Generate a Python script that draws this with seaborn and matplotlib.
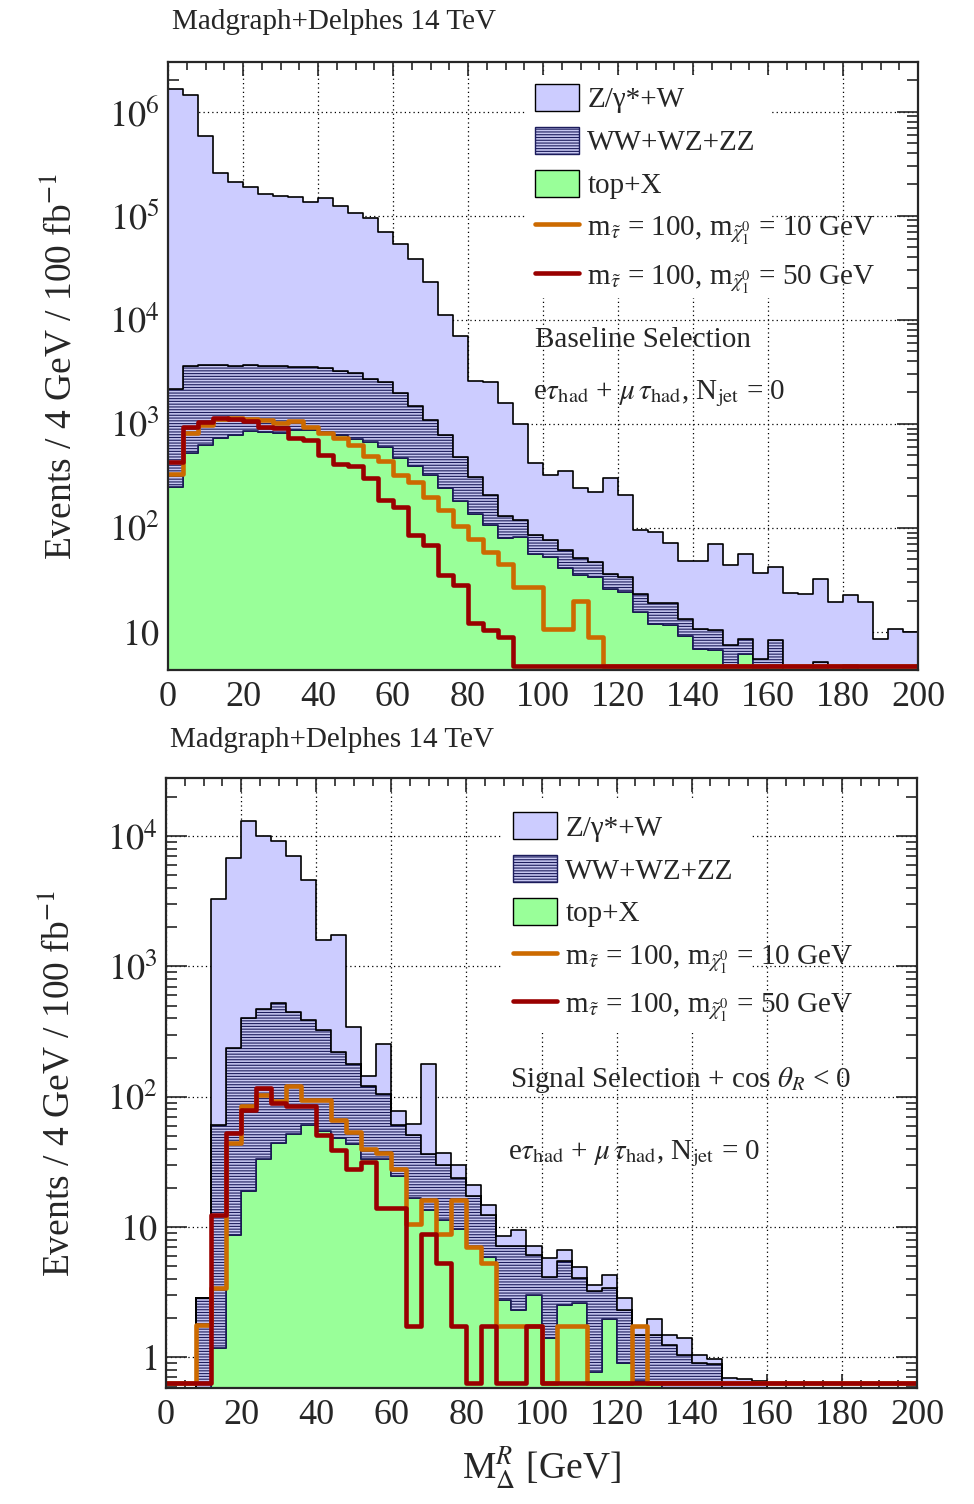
import numpy as np
import pandas as pd
import matplotlib
matplotlib.use("Agg")
import matplotlib.pyplot as plt
import seaborn as sns
from matplotlib.patches import Patch, Rectangle
from matplotlib.lines import Line2D
from matplotlib.ticker import MultipleLocator, LogLocator, FuncFormatter, NullFormatter

# ---------------- data ----------------
bin_edges = list(range(0, 204, 4))          # 50 bins of 4 GeV, 0-200 GeV
processes = ["Z/γ*+W", "WW+WZ+ZZ", "top+X"]
signal_labels = [
    r"m$_{\tilde{\tau}}$ = 100, m$_{\tilde{\chi}^{0}_{1}}$ = 10 GeV",
    r"m$_{\tilde{\tau}}$ = 100, m$_{\tilde{\chi}^{0}_{1}}$ = 50 GeV",
]

# Baseline selection (top panel)
top_z = [1.64e6, 1.43e6, 5.76e5, 2.56e5, 2.06e5, 1.84e5, 1.58e5, 1.52e5, 1.465e5, 1.315e5,
         1.435e5, 1.21e5, 1.04e5, 9.23e4, 6.75e4, 5.1e4, 3.65e4, 2.19e4, 1.04e4, 6420,
         2290, 2290, 1440, 866, 331, 244, 290, 190, 172, 267,
         172, 72, 73, 53, 35, 37, 60, 37, 47, 31.5,
         34, 23.7, 22.9, 27, 19.3, 17.7, 19.4, 8.6, 10.7, 9.9]
top_vv = [1890, 3070, 3080, 2980, 2820, 2850, 2770, 2790, 2630, 2630,
          2610, 2420, 2390, 2040, 1900, 1520, 1090, 770, 540, 300,
          172, 103, 51, 39, 29, 24, 20, 16, 13, 10,
          10, 7.4, 7.1, 7.4, 4.1, 3.7, 3.7, 2.6, 2.5, 5.5,
          3.5, 0, 0, 5.1, 0, 4.8, 0, 0, 0, 0]
top_tt = [248, 526, 624, 724, 778, 851, 827, 809, 869, 869,
          838, 778, 713, 662, 601, 471, 392, 321, 239, 182,
          137, 106, 79, 81, 56, 53, 41, 35, 34, 26,
          24, 15.6, 11.9, 11.6, 9.1, 6.9, 6.7, 4.8, 6.1, 0,
          4.8, 0, 0, 0, 0, 0, 0, 0, 0, 0]
top_sig10 = [328, 820, 973, 1110, 1135, 1110, 1087, 1015, 1052, 922,
             809, 733, 624, 489, 441, 321, 277, 196, 147, 105,
             78, 58, 45, 27, 27, 10.6, 10.6, 19.7, 9.0, 0,
             0, 0, 0, 0, 0, 0, 0, 0, 0, 0,
             0, 0, 0, 0, 0, 0, 0, 0, 0, 0]
top_sig50 = [431, 922, 1045, 1127, 1110, 1069, 936, 903, 733, 697,
             500, 410, 392, 298, 185, 159, 85, 68, 35, 28,
             12.3, 10.5, 8.9, 0, 0, 0, 0, 0, 0, 0,
             0, 0, 0, 0, 0, 0, 0, 0, 0, 0,
             0, 0, 0, 0, 0, 0, 0, 0, 0, 0]

# Signal selection + cos theta_R < 0 (bottom panel)
bot_z = [0, 0, 0, 3240, 6560, 12600, 9530, 8680, 6550, 4210,
         1276, 1528, 163, 23, 152, 17, 11, 143, 6.7, 6.2,
         3.8, 2.3, 1.4, 2.4, 1.1, 1.7, 1.1, 0.84, 0.4, 0.9,
         0.55, 0.26, 0.48, 0.23, 0.36, 0.13, 0.07, 0.69, 0.68, 0.66,
         0, 0, 0, 0, 0, 0, 0, 0, 0, 0]
bot_vv = [0, 0, 2.84, 59.3, 229, 382, 437, 478, 397, 326,
          269, 174, 134, 88, 71, 36.5, 34.3, 22.4, 18.6, 14.2,
          10.2, 6.5, 4.4, 4.8, 3.1, 2.7, 3.0, 1.46, 2.43, 1.45,
          1.4, 0.83, 0.87, 1.24, 1.04, 0.91, 0.89, 0, 0, 0,
          0, 0, 0, 0, 0, 0, 0, 0, 0, 0]
bot_tt = [0, 0, 0, 1.18, 8.6, 18.8, 33, 44, 52, 61,
          55, 48, 43, 33, 33, 24.5, 16.7, 13.6, 11.4, 9.6,
          7.0, 5.9, 2.77, 2.3, 3.0, 1.4, 2.5, 2.6, 0.77, 1.95,
          0.90, 0.66, 0.62, 0, 0, 0, 0, 0, 0, 0,
          0, 0, 0, 0, 0, 0, 0, 0, 0, 0]
bot_sig10 = [0, 0, 1.77, 3.4, 44, 85, 103, 93, 121, 94,
             94, 66, 54, 40, 37, 28, 10.6, 16, 8.8, 16,
             7.0, 5.3, 1.75, 1.75, 1.75, 0, 1.75, 1.75, 0, 0,
             0, 1.75, 0, 0, 0, 0, 0, 0, 0, 0,
             0, 0, 0, 0, 0, 0, 0, 0, 0, 0]
bot_sig50 = [0, 0, 0, 12.3, 53, 79, 116, 90, 85, 85,
             51, 39, 28, 31.7, 14, 14, 1.75, 8.8, 5.3, 1.75,
             0, 1.75, 0, 0, 1.75, 0, 0, 0, 0, 0,
             0, 0, 0, 0, 0, 0, 0, 0, 0, 0,
             0, 0, 0, 0, 0, 0, 0, 0, 0, 0]

# ---------------- style ----------------
sns.set_style("ticks")
plt.rcParams["font.family"] = ["Liberation Serif", "DejaVu Serif"]
plt.rcParams["mathtext.fontset"] = "stix"
plt.rcParams["hatch.linewidth"] = 0.8

C_Z = "#ccccff"
C_VV = "#c6c6f0"
C_VV_EDGE = "#1c1c5c"
C_TT = "#99ff99"
C_S10 = "#cc6a00"
C_S50 = "#990000"
VV_HATCH = "------"
palette = {processes[0]: C_Z, processes[1]: C_VV, processes[2]: C_TT}

TICK_FS = 26
TEXT_FS = 21


def decade_fmt(v, pos):
    e = int(round(np.log10(v)))
    if e == 0:
        return "$1$"
    if e == 1:
        return "$10$"
    return rf"$10^{{{e}}}$"


def draw_panel(ax, z, vv, tt, s10, s50, ymin, ymax):
    centers = np.asarray(bin_edges[:-1], float) + 2.0
    df = pd.DataFrame({
        "mass": np.tile(centers, 3),
        "events": np.concatenate([z, vv, tt]),
        "process": np.repeat(processes, len(centers)),
    })
    ax.set_yscale("log")
    sns.histplot(data=df, x="mass", weights="events", hue="process",
                 hue_order=processes, bins=bin_edges, multiple="stack",
                 element="step", fill=True, palette=palette, alpha=1,
                 edgecolor="black", linewidth=1.2, legend=False, ax=ax)
    for coll in ax.collections:
        fc = matplotlib.colors.to_hex(coll.get_facecolor()[0])
        if fc == C_VV:
            coll.set_edgecolor(C_VV_EDGE)
            coll.set_hatch(VV_HATCH)
    floor = ymin * 1.10
    for vals, col in [(s10, C_S10), (s50, C_S50)]:
        sns.histplot(x=centers, weights=np.clip(np.asarray(vals, float), floor, None),
                     bins=bin_edges, element="step", fill=False, color=col,
                     linewidth=3.3, ax=ax)
    ax.set_xlim(0, 200)
    ax.set_ylim(ymin, ymax)
    ax.set_xlabel("")
    ax.xaxis.set_major_locator(MultipleLocator(20))
    ax.xaxis.set_minor_locator(MultipleLocator(5))
    ax.yaxis.set_major_locator(LogLocator(base=10, numticks=20))
    ax.yaxis.set_minor_locator(LogLocator(base=10, subs=np.arange(2, 10), numticks=20))
    ax.yaxis.set_major_formatter(FuncFormatter(decade_fmt))
    ax.yaxis.set_minor_formatter(NullFormatter())
    ax.tick_params(axis="both", which="both", direction="in", top=True, right=True,
                   labelsize=TICK_FS, width=1.2)
    ax.tick_params(axis="x", which="major", length=10, pad=8)
    ax.tick_params(axis="x", which="minor", length=6)
    ax.tick_params(axis="y", which="major", length=15, pad=6)
    ax.tick_params(axis="y", which="minor", length=8)
    ax.set_axisbelow(True)
    ax.grid(True, which="major", linestyle=(0, (1, 2.5)), color="black", linewidth=0.9)
    for sp in ax.spines.values():
        sp.set_linewidth(1.6)
        sp.set_zorder(5)
    ax.set_ylabel("Events / 4 GeV / 100 fb$^{-1}$", fontsize=27)


def add_legend(ax, anchor, box):
    ax.add_patch(Rectangle((box[0], box[1]), box[2], box[3], transform=ax.transAxes,
                           facecolor="white", edgecolor="none", zorder=0.8))
    handles = [
        Patch(facecolor=C_Z, edgecolor="black", linewidth=1.0),
        Patch(facecolor=C_VV, edgecolor=C_VV_EDGE, hatch=VV_HATCH, linewidth=1.0),
        Patch(facecolor=C_TT, edgecolor="black", linewidth=1.0),
        Line2D([], [], color=C_S10, linewidth=3.3),
        Line2D([], [], color=C_S50, linewidth=3.3),
    ]
    labels = processes + signal_labels
    ax.legend(handles, labels, loc="upper left", bbox_to_anchor=anchor,
              frameon=False, fontsize=TEXT_FS, handlelength=1.5, handleheight=1.05,
              handletextpad=0.3, labelspacing=0.46, borderpad=0, borderaxespad=0)


fig = plt.figure(figsize=(9.74, 15.04), dpi=100)
ax1 = fig.add_axes([168 / 974, 1 - 670 / 1504, 750 / 974, 608 / 1504])
ax2 = fig.add_axes([166 / 974, 1 - 1388 / 1504, 751 / 974, 610 / 1504])

draw_panel(ax1, top_z, top_vv, top_tt, top_sig10, top_sig50, 4.3, 3.0e6)
draw_panel(ax2, bot_z, bot_vv, bot_tt, bot_sig10, bot_sig50, 0.58, 2.8e4)

ax1.yaxis.set_label_coords(-0.118, 0.5)
ax2.yaxis.set_label_coords(-0.118, 0.5)

add_legend(ax1, (0.489, 0.964), (0.476, 0.612, 0.329, 0.367))
add_legend(ax2, (0.462, 0.944), (0.449, 0.582, 0.330, 0.385))

ax1.text(0.489, 0.543, "Baseline Selection", transform=ax1.transAxes,
         fontsize=TEXT_FS, va="center", ha="left")
ax1.text(0.487, 0.445, r"e$\tau_{\rm had}$ + $\mu\,\tau_{\rm had}$, N$_{\rm jet}$ = 0",
         transform=ax1.transAxes, fontsize=TEXT_FS, va="baseline", ha="left")

ax2.text(0.458, 0.505, r"Signal Selection + cos $\theta_{R}$ < 0", transform=ax2.transAxes,
         fontsize=TEXT_FS, va="center", ha="left")
ax2.text(0.455, 0.375, r"e$\tau_{\rm had}$ + $\mu\,\tau_{\rm had}$, N$_{\rm jet}$ = 0",
         transform=ax2.transAxes, fontsize=TEXT_FS, va="baseline", ha="left")

fig.text(172 / 974, 1 - 22 / 1504, "Madgraph+Delphes 14 TeV", fontsize=TEXT_FS,
         ha="left", va="center")
fig.text(170 / 974, 1 - 740 / 1504, "Madgraph+Delphes 14 TeV", fontsize=TEXT_FS,
         ha="left", va="center")

ax2.set_xlabel(r"M$_{\Delta}^{R}$ [GeV]", fontsize=27)
ax2.xaxis.set_label_coords(0.5, -0.095)
ax2.xaxis.label.set_verticalalignment("top")

fig.savefig("out.png", dpi=100)
